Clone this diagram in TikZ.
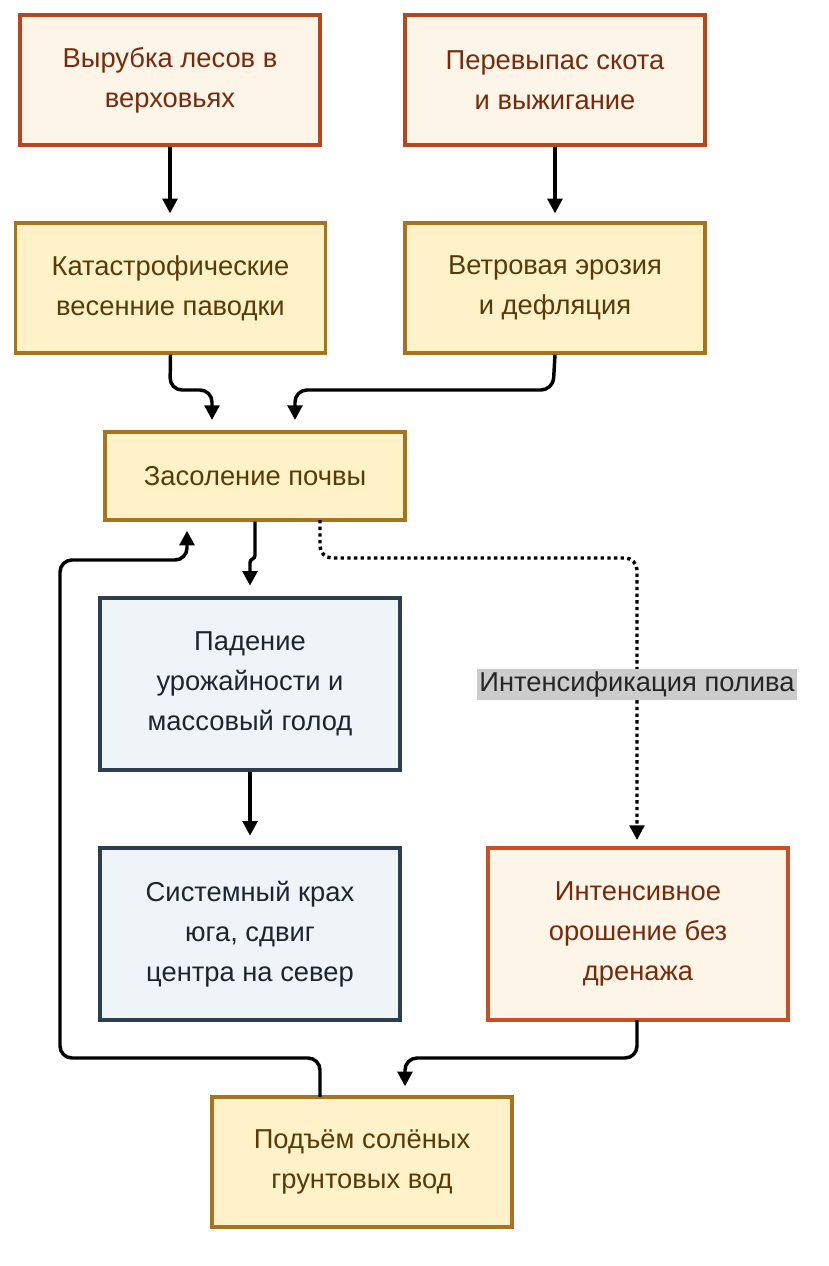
\documentclass[tikz,border=0pt]{standalone}
\usepackage{fontspec}
\setmainfont{Liberation Sans}
\usetikzlibrary{arrows.meta}
\definecolor{redfill}{HTML}{FDF5E8}
\definecolor{redline}{HTML}{B8461C}
\definecolor{redtext}{HTML}{7A2A0C}
\definecolor{yelfill}{HTML}{FFF2C8}
\definecolor{yelline}{HTML}{A8731F}
\definecolor{yeltext}{HTML}{5A3A08}
\definecolor{bluefill}{HTML}{EFF4F9}
\definecolor{blueline}{HTML}{2E3D4D}
\definecolor{bluetext}{HTML}{1C2530}
\definecolor{orline}{HTML}{C94F27}
\tikzset{every picture/.style={line width=0.75pt},
  box/.style={draw, line width=2.4pt, align=center, inner sep=0pt, font=\fontsize{20.5}{30}\selectfont},
  redbox/.style={box, fill=redfill, draw=redline, text=redtext},
  yelbox/.style={box, fill=yelfill, draw=yelline, text=yeltext},
  bluebox/.style={box, fill=bluefill, draw=blueline, text=bluetext},
  orbox/.style={box, fill=redfill, draw=orline, text=redtext},
  link/.style={line width=2.6pt, rounded corners=9, -{Triangle[length=11pt,width=11pt]}}}

\begin{document}
\begin{tikzpicture}[x=0.75pt,y=0.75pt,yscale=-1,xscale=1]
\useasboundingbox (0,0) rectangle (828,1266);

% Boxes
\node[redbox, minimum width=225pt, minimum height=97.5pt] (cut) at (170,80) {Вырубка лесов в\\верховьях};
\node[redbox, minimum width=225pt, minimum height=97.5pt] (graze) at (555,80) {Перевыпас скота\\и выжигание};
\node[yelbox, minimum width=233pt, minimum height=97.5pt] (flood) at (170.5,288) {Катастрофические\\весенние паводки};
\node[yelbox, minimum width=225pt, minimum height=97.5pt] (wind) at (555,288) {Ветровая эрозия\\и дефляция};
\node[yelbox, minimum width=225pt, minimum height=66pt] (salt) at (255,476) {Засоление почвы};
\node[bluebox, minimum width=225pt, minimum height=129pt] (yield) at (250,684) {Падение\\урожайности и\\массовый голод};
\node[bluebox, minimum width=225pt, minimum height=129pt] (crash) at (250,934) {Системный крах\\юга, сдвиг\\центра на север};
\node[orbox, minimum width=225pt, minimum height=129pt] (irrig) at (638,934) {Интенсивное\\орошение без\\дренажа};
\node[yelbox, minimum width=225pt, minimum height=97.5pt] (ground) at (362,1162) {Подъём солёных\\грунтовых вод};

% Connectors
\draw[link] (cut.south) -- ([yshift=-6]cut.south |- flood.north);
\draw[link] (graze.south) -- ([yshift=-6]graze.south |- wind.north);
\draw[link] (flood.south) -- (170,390) -- (212,390) -- ([yshift=-9]212,432);
\draw[link] (wind.south) -- (553,390) -- (295,390) -- ([yshift=-9]295,432);
\draw[link, rounded corners=2] (salt.south) -- (255,558) -- (250,560) -- ([yshift=-8]yield.north);
\draw[link, dash pattern=on 2.5pt off 2.5pt] (320,520) -- (320,558) -- (637,558)
  -- node[pos=0.45, fill=black!20, text=black!85, sharp corners, inner sep=2pt, font=\fontsize{20.5}{22}\selectfont] (lbl) {Интенсификация полива} (637,840);
\draw[link] (yield.south) -- ([yshift=-8]crash.north);
\draw[link] (637,1020) -- (637,1058) -- (405,1058) -- ([yshift=-8]405,1097);
\draw[link] (320,1097) -- (320,1058) -- (60,1058) -- (60,560) -- (187,560) -- ([yshift=8]187,520);

\end{tikzpicture}
\end{document}
